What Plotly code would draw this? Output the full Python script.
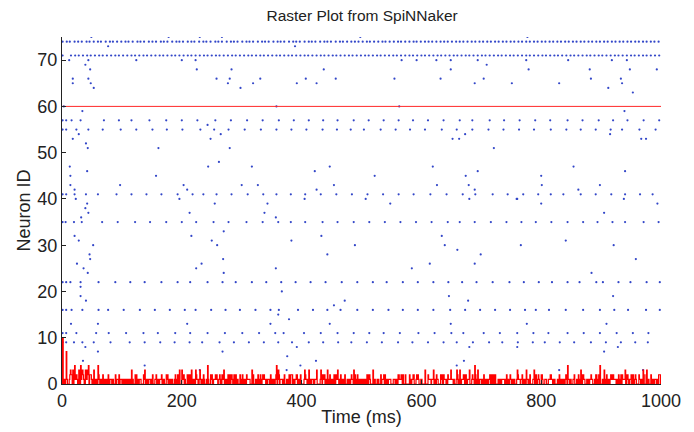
import numpy as np
import plotly.graph_objects as go

# ---- spike times (ms) for regularly firing neurons ----
n74 = [1, 8, 13, 21, 27, 33, 41, 46, 53, 60, 65, 73, 80, 85, 92, 99, 106, 111, 118, 126, 131, 137, 145, 151, 157, 165, 170, 176, 184, 191, 196, 202, 210, 216, 221, 229, 236, 241, 248, 256, 261, 267, 275, 282, 287, 293, 301, 308, 313, 319, 327, 334, 339, 345, 353, 360, 365, 371, 379, 386, 391, 397, 405, 412, 417, 423, 431, 438, 443, 449, 457, 464, 469, 476, 483, 489, 495, 502, 509, 514, 521, 528, 535, 540, 547, 554, 561, 566, 573, 580, 587, 592, 599, 606, 612, 618, 625, 632, 638, 644, 651, 658, 664, 670, 677, 684, 690, 697, 703, 710, 716, 723, 729, 736, 742, 749, 755, 762, 768, 775, 781, 788, 794, 801, 807, 814, 820, 827, 833, 840, 846, 853, 859, 866, 872, 879, 885, 892, 898, 905, 911, 918, 924, 931, 937, 944, 950, 957, 963, 970, 976, 983, 989, 996]
n71 = [1, 15, 22, 28, 35, 42, 48, 55, 62, 68, 75, 82, 89, 95, 102, 109, 116, 122, 129, 136, 142, 149, 156, 163, 169, 176, 183, 189, 196, 203, 210, 216, 223, 230, 237, 243, 250, 257, 263, 270, 277, 284, 290, 297, 304, 311, 317, 324, 331, 337, 344, 351, 358, 364, 371, 378, 384, 391, 398, 405, 411, 418, 425, 432, 438, 445, 452, 458, 465, 472, 479, 485, 492, 499, 506, 512, 519, 526, 532, 539, 546, 553, 559, 566, 573, 580, 586, 593, 600, 606, 613, 620, 627, 633, 640, 647, 654, 660, 667, 674, 680, 687, 694, 701, 707, 714, 721, 728, 734, 741, 748, 754, 761, 768, 775, 781, 788, 795, 802, 808, 815, 822, 828, 835, 842, 849, 855, 862, 869, 876, 882, 889, 896, 902, 909, 916, 923, 929, 936, 943, 950, 956, 963, 970, 976, 983, 990, 997]
n57 = [1, 7, 16, 31, 70, 95, 116, 146, 174, 200, 226, 256, 282, 309, 335, 362, 387, 412, 436, 460, 487, 512, 537, 562, 586, 611, 637, 664, 685, 714, 738, 764, 790, 815, 844, 869, 896, 920, 944, 971, 997]
n55 = [1, 7, 24, 44, 68, 98, 124, 151, 175, 201, 231, 254, 278, 305, 332, 358, 383, 408, 435, 459, 482, 504, 532, 557, 581, 606, 634, 659, 685, 712, 737, 763, 788, 816, 842, 866, 891, 916, 935, 964, 991]
n41 = [1, 7, 21, 40, 60, 91, 116, 141, 166, 193, 218, 236, 258, 283, 310, 336, 358, 382, 406, 432, 458, 484, 510, 536, 562, 587, 615, 642, 669, 690, 719, 744, 770, 795, 816, 837, 866, 891, 917, 940, 965, 986]
n35 = [1, 6, 20, 33, 67, 93, 122, 147, 174, 200, 224, 253, 278, 308, 335, 361, 382, 406, 435, 460, 487, 513, 539, 565, 591, 617, 644, 664, 689, 716, 742, 767, 791, 817, 844, 870, 894, 919, 940, 971, 996]
n22 = [1, 7, 14, 31, 61, 89, 114, 138, 166, 193, 214, 243, 268, 290, 317, 341, 366, 390, 415, 440, 467, 493, 519, 542, 569, 594, 620, 645, 668, 692, 719, 747, 771, 796, 818, 844, 864, 892, 903, 929, 949, 976, 998]
n16 = [1, 7, 16, 34, 61, 77, 103, 130, 155, 180, 205, 223, 249, 273, 297, 323, 348, 362, 394, 419, 443, 465, 493, 519, 545, 569, 594, 620, 648, 673, 698, 723, 748, 773, 791, 813, 841, 870, 898, 922, 945, 975, 998]
n11 = [1, 7, 24, 57, 78, 107, 136, 160, 189, 214, 243, 272, 301, 329, 356, 370, 404, 432, 460, 487, 513, 537, 564, 595, 622, 650, 670, 704, 731, 760, 787, 812, 844, 871, 898, 926, 953, 979]
n9 = [1, 7, 20, 34, 53, 81, 113, 138, 164, 188, 213, 234, 263, 287, 312, 337, 361, 384, 412, 436, 461, 483, 509, 534, 561, 585, 611, 637, 659, 686, 713, 735, 761, 786, 806, 831, 855, 883, 908, 933, 957, 978]

# ---- scattered spikes of irregular neurons ----
scat_t = [49, 77, 12, 18, 18, 39, 44, 47, 44, 48, 53, 124, 178, 200, 223, 225, 230, 258, 267, 280, 283, 277, 298, 319, 331, 34, 3, 358, 563,
          18, 28, 40, 43, 243, 248, 265, 280, 161,
          13, 14, 14, 21, 23, 42, 42, 39, 44, 32, 21, 28, 52, 46, 47, 25, 36, 43, 31, 31, 40, 97, 157, 203, 209, 196, 213, 216, 224, 233,
          244, 262, 255, 250, 259, 270, 269, 270, 300, 317, 327, 343, 338, 357, 357, 367,
          721, 447, 619, 422, 694, 522, 674, 454, 626, 679, 425, 689, 405, 507, 680, 759, 548, 383, 433, 634, 489, 639, 766, 660,
          443, 699, 614, 689, 584, 646, 472, 678, 454, 652,
          854, 940, 800, 801, 898, 862, 760, 938, 800, 994, 905, 841, 921, 958, 884, 920, 967,
          777, 775, 845, 918, 943, 779, 881, 948, 993, 883, 933, 751, 830, 935, 912, 953, 939, 915, 975,
          498, 389, 567, 592, 625, 649, 694, 709, 437, 649, 407, 457, 555, 632, 704, 392, 425, 689, 663, 673,
          15, 60, 209, 348, 361, 39, 60, 35, 268, 138, 230, 375, 379, 447, 649, 776, 680, 760, 392, 376, 424, 671, 398, 659,
          909, 928, 905, 830, 970]
scat_id = [75, 73, 70, 66, 65, 69, 70, 68, 66, 65, 64, 70, 75, 70, 70, 68, 75, 66, 75, 66, 68, 65, 64, 65, 66, 59, 60, 60, 60,
           53, 54, 52, 51, 56, 53, 54, 51, 51,
           47, 45, 43, 42, 40, 46, 39, 38, 37, 36, 32, 31, 30, 28, 27, 26, 25, 24, 21, 19, 18, 43, 45, 43, 42, 40, 37, 32, 25, 26,
           47, 48, 39, 31, 30, 33, 27, 24, 43, 47, 43, 39, 37, 36, 25, 20,
           51, 47, 47, 46, 46, 45, 45, 43, 43, 43, 42, 42, 40, 40, 40, 40, 39, 31, 32, 32, 30, 30, 30, 29,
           28, 28, 26, 26, 25, 19, 18, 18, 17, 53,
           47, 46, 45, 43, 43, 42, 40, 40, 39, 39, 37, 31, 30, 27, 24, 19, 53,
           75, 70, 70, 70, 70, 68, 68, 68, 68, 66, 66, 65, 65, 65, 64, 63, 59, 54, 53,
           75, 73, 70, 70, 70, 70, 70, 69, 68, 68, 66, 66, 66, 66, 66, 65, 65, 65, 53, 54,
           13, 13, 13, 13, 15, 8, 7, 5, 7, 4, 3, 3, 14, 13, 13, 13, 8, 8, 8, 6, 5, 5, 4, 4,
           13, 8, 7, 3, 3]

rows = {74: n74, 71: n71, 57: n57, 55: n55, 41: n41, 35: n35, 22: n22, 16: n16, 11: n11, 9: n9}
all_t = list(scat_t)
all_id = list(scat_id)
for nid, times in rows.items():
    all_t += times
    all_id += [nid] * len(times)
all_t = np.array(all_t, dtype=float)
all_id = np.array(all_id, dtype=float)

# population spike count per 1 ms bin
edges = np.arange(0, 1001, 1)
counts, _ = np.histogram(all_t, bins=edges)
hist_x = edges[:-1]

fig = go.Figure()
fig.add_trace(go.Scatter(x=all_t, y=all_id, mode="markers",
                         marker=dict(color="rgb(50,70,200)", size=2.2, line=dict(width=0)),
                         showlegend=False, hoverinfo="skip"))
fig.add_trace(go.Scatter(x=[0, 1000], y=[60, 60], mode="lines",
                         line=dict(color="rgb(255,40,40)", width=1), showlegend=False))
fig.add_trace(go.Scatter(x=hist_x, y=counts, mode="lines",
                         line=dict(color="rgb(255,0,0)", width=1.2, shape="hv"), showlegend=False))

font = "Liberation Sans, Arial, Helvetica, sans-serif"
fig.update_layout(
    width=694, height=432,
    margin=dict(l=62, r=33, t=37, b=48),
    paper_bgcolor="white", plot_bgcolor="white",
    title=dict(text="Raster Plot from SpiNNaker", x=0.5217, xanchor="center", y=0.963, yanchor="middle",
               font=dict(family=font, size=15.5, color="#222")),
    font=dict(family=font, color="#222"),
    xaxis=dict(range=[0, 1000], tickvals=[0, 200, 400, 600, 800, 1000], ticks="inside", ticklen=4,
               tickcolor="#222", showline=True, linecolor="#222", linewidth=1, showgrid=False, zeroline=False,
               automargin=False,
               tickfont=dict(size=18, family=font, color="#222"),
               title=dict(text="Time (ms)", font=dict(size=18, family=font, color="#222"), standoff=0)),
    yaxis=dict(range=[0, 75], tickvals=[0, 10, 20, 30, 40, 50, 60, 70], ticks="inside", ticklen=4,
               tickcolor="#222", showline=True, linecolor="#222", linewidth=1, showgrid=False, zeroline=False,
               automargin=False,
               tickfont=dict(size=18, family=font, color="#222"),
               title=dict(text="Neuron ID", font=dict(size=18, family=font, color="#222"), standoff=2)),
)
fig.write_html("out.html", config={"displayModeBar": False},
               post_script="document.body.style.margin='0px';")
